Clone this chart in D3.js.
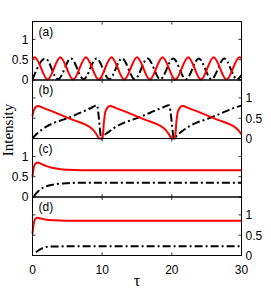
<!DOCTYPE html>
<html>
<head>
<meta charset="utf-8">
<script src="https://cdn.jsdelivr.net/npm/d3@7"></script>
<style>
  body { margin: 0; background: #fff; }
  .tick-label { font-family: "Liberation Sans", Arial, sans-serif; font-size: 12px; fill: #000; }
  .panel-tag { font-family: "Liberation Sans", Arial, sans-serif; font-size: 12px; fill: #000; }
  .axis-title { font-family: "Liberation Serif", "Times New Roman", serif; fill: #000; }
</style>
</head>
<body>
<div id="chart"></div>
<script>
// tau, intensity pairs
const redA = [[0,0.53],[0.33,0.56],[2.17,0.01],[4.0,0.56],[5.84,0.01],[7.67,0.56],[9.5,0.01],[11.34,0.56],[13.17,0.01],[15.0,0.56],[16.84,0.01],[18.67,0.56],[20.5,0.01],[22.35,0.56],[24.18,0.01],[26.0,0.56],[27.85,0.01],[29.7,0.56],[30,0.54]];
const blackA = [[0,0.02],[1.85,0.53],[3.67,0.02],[5.52,0.53],[7.34,0.02],[9.19,0.53],[11.01,0.02],[12.86,0.53],[14.68,0.02],[16.53,0.53],[18.35,0.02],[20.2,0.53],[22.02,0.02],[23.87,0.53],[25.69,0.02],[27.54,0.53],[29.36,0.02],[30,0.12]];

const redB = [[0,0.55],[0.25,0.72],[0.75,0.80],[1.55,0.75],[2.95,0.66],[5.35,0.49],[6.75,0.40],[7.75,0.33],[8.45,0.25],[8.95,0.16],[9.3,0.07],[9.55,0],
  [10.05,0],[10.25,0.4],[10.5,0.68],[11.15,0.80],[11.95,0.75],[13.35,0.66],[15.75,0.49],[17.15,0.40],[18.15,0.33],[18.85,0.25],[19.35,0.16],[19.7,0.07],[19.95,0],
  [20.45,0],[20.65,0.4],[20.9,0.68],[21.55,0.80],[22.35,0.75],[23.75,0.66],[26.15,0.49],[27.55,0.40],[28.55,0.33],[29.25,0.25],[29.75,0.16],[30,0.10]];
const blackB = [[0,0],[0.4,0.08],[1,0.17],[2,0.29],[3,0.38],[4.5,0.47],[6,0.57],[7.5,0.68],[8.6,0.77],[9.25,0.82],[9.9,0],
  [10.3,0.08],[11.0,0.17],[12.0,0.29],[13.0,0.38],[14.5,0.47],[16.0,0.57],[17.5,0.68],[18.8,0.77],[19.6,0.82],[20.35,0],
  [20.75,0.08],[21.4,0.17],[22.4,0.29],[23.4,0.38],[24.9,0.47],[26.4,0.57],[27.9,0.68],[29.2,0.77],[30,0.81]];

const redC = [[0,0.5],[0.15,0.7],[0.4,0.82],[0.75,0.85],[1.3,0.81],[2,0.76],[2.8,0.72],[3.8,0.69],[5,0.67],[7,0.66],[30,0.66]];
const blackC = [[0.2,0.02],[0.6,0.1],[1,0.17],[1.5,0.23],[2.5,0.29],[3.5,0.32],[5,0.34],[7,0.35],[30,0.35]];

const redD = [[0,0.54],[0.15,0.75],[0.4,0.9],[0.7,0.93],[1.2,0.91],[2,0.88],[3,0.865],[5,0.855],[30,0.855]];
const blackD = [[0.5,0.08],[0.9,0.13],[1.3,0.17],[2,0.21],[3,0.222],[5,0.225],[30,0.225]];

const panelTags = ["(a)", "(b)", "(c)", "(d)"];
const yTickSide = ["left", "right", "left", "right"];
const xTicks = [0, 10, 20, 30];
const yTicks = [0, 0.5, 1];

const panels = [
  { red: redA, black: blackA },
  { red: redB, black: blackB },
  { red: redC, black: blackC },
  { red: redD, black: blackD }
];

function drawChart() {
  const width = 271, height = 295;
  const left = 32.5, right = 241.5;
  const top = 21.5, panelH = 58.5;

  const svg = d3.select("#chart").append("svg")
    .attr("width", width)
    .attr("height", height);

  const x = d3.scaleLinear().domain([0, 30]).range([left, right]);

  const line = (y) => d3.line()
    .x(d => x(d[0]))
    .y(d => y(d[1]))
    .curve(d3.curveMonotoneX);

  panels.forEach((p, i) => {
    const y0 = top + i * panelH;
    const y = d3.scaleLinear().domain([0, 1.44]).range([y0 + panelH, y0]);
    const g = svg.append("g");

    // ticks inside on all four sides
    const tickLen = 3;
    xTicks.slice(1, -1).forEach(t => {
      g.append("line").attr("x1", x(t)).attr("x2", x(t))
        .attr("y1", y0 + panelH).attr("y2", y0 + panelH - tickLen)
        .attr("stroke", "#000").attr("stroke-width", 0.8);
      g.append("line").attr("x1", x(t)).attr("x2", x(t))
        .attr("y1", y0).attr("y2", y0 + tickLen)
        .attr("stroke", "#000").attr("stroke-width", 0.8);
    });
    yTicks.forEach(t => {
      g.append("line").attr("x1", left).attr("x2", left + tickLen)
        .attr("y1", y(t)).attr("y2", y(t))
        .attr("stroke", "#000").attr("stroke-width", 0.8);
      g.append("line").attr("x1", right).attr("x2", right - tickLen)
        .attr("y1", y(t)).attr("y2", y(t))
        .attr("stroke", "#000").attr("stroke-width", 0.8);
    });

    // y tick labels alternate sides
    const side = yTickSide[i];
    g.selectAll(".ylab").data(yTicks).enter().append("text")
      .attr("class", "tick-label")
      .attr("x", side === "left" ? left - 4 : right + 4)
      .attr("y", d => y(d))
      .attr("dy", "0.36em")
      .attr("text-anchor", side === "left" ? "end" : "start")
      .text(d => d);

    // curves
    g.append("path").datum(p.black)
      .attr("d", line(y))
      .attr("fill", "none")
      .attr("stroke", "#000")
      .attr("stroke-width", 2)
      .attr("stroke-dasharray", "8,3,2,3");
    g.append("path").datum(p.red)
      .attr("d", line(y))
      .attr("fill", "none")
      .attr("stroke", "#ff0000")
      .attr("stroke-width", 2);

    // frame
    g.append("rect")
      .attr("x", left).attr("y", y0)
      .attr("width", right - left).attr("height", panelH)
      .attr("fill", "none").attr("stroke", "#000").attr("stroke-width", 1);

    g.append("text")
      .attr("class", "panel-tag")
      .attr("x", left + 6)
      .attr("y", y0 + 14)
      .text(panelTags[i]);
  });

  // x tick labels under the last panel
  const bottom = top + 4 * panelH;
  svg.selectAll(".xlab").data(xTicks).enter().append("text")
    .attr("class", "tick-label")
    .attr("x", d => x(d))
    .attr("y", bottom + 18)
    .attr("text-anchor", "middle")
    .text(d => d);

  svg.append("text")
    .attr("class", "axis-title")
    .attr("x", x(15))
    .attr("y", bottom + 30)
    .attr("text-anchor", "middle")
    .attr("font-size", 16)
    .text("τ");

  svg.append("text")
    .attr("class", "axis-title")
    .attr("font-size", 15)
    .attr("text-anchor", "middle")
    .attr("transform", "translate(13,130) rotate(-90)")
    .text("Intensity");
}

drawChart();
</script>
</body>
</html>
